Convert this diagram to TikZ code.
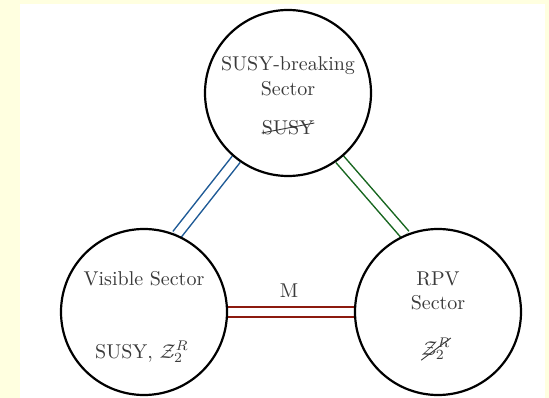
\documentclass[tikz,border=0pt]{standalone}
\usepackage{graphicx}
\usetikzlibrary{backgrounds}
\definecolor{bgyellow}{HTML}{FFFFE0}
\definecolor{linkblue}{HTML}{1E5A96}
\definecolor{linkgreen}{HTML}{17661F}
\definecolor{linkred}{HTML}{8C1A0F}
\definecolor{txtgray}{HTML}{3A3A3A}
\newcommand{\dbl}[1]{\scalebox{2}{#1}}
\tikzset{
  sector/.style={circle, draw=black, line width=2.2pt, minimum size=166pt, inner sep=0pt},
  lbl/.style={text=txtgray, inner sep=0pt, anchor=base, font=\fontsize{10}{12}\selectfont},
  link/.style={double=white, line width=1.5pt, double distance=8.5pt},
  strike/.style={draw=txtgray, line width=0.9pt}
}
\begin{document}
\begin{tikzpicture}[x=1pt, y=-1pt]
\useasboundingbox (0,0) rectangle (549,398);
\node[sector] (top) at (288,93) {};
\node[sector] (vis) at (144,312) {};
\node[sector] (rpv) at (438,312) {};
\begin{scope}[on background layer]
  \fill[bgyellow] (0,0) rectangle (549,398);
  \fill[white] (20,4) rectangle (545,398);
  \draw[link, draw=linkblue] (top.-128) -- (vis.67);
  \draw[link, draw=linkgreen] (top.-52) -- (rpv.113);
  \draw[link, draw=linkred] (vis.east) -- (rpv.west);
\end{scope}
% top sector texts
\node[lbl] (t1) at (288,71) {\dbl{SUSY-breaking}};
\node[lbl] (t2) at (288,96) {\dbl{Sector}};
\node[lbl] (t3) at (288,135) {\dbl{SUSY}};
\draw[strike] ([yshift=2pt]t3.base west) -- ([yshift=12pt]t3.base east);
% visible sector texts
\node[lbl] (v1) at (144,286) {\dbl{Visible Sector}};
\node[lbl] (v2) at (142,358) {\dbl{SUSY, $\mathcal{Z}_2^R$}};
% RPV sector texts
\node[lbl] (r1) at (438,285.5) {\dbl{RPV}};
\node[lbl] (r2) at (438,309) {\dbl{Sector}};
\node[lbl] (r3) at (436,355) {\dbl{$\mathcal{Z}_2^R$}};
\draw[strike] (r3.south west) -- (r3.north east);
% link label
\node[lbl] (m) at (289,297) {\dbl{M}};
\end{tikzpicture}
\end{document}
